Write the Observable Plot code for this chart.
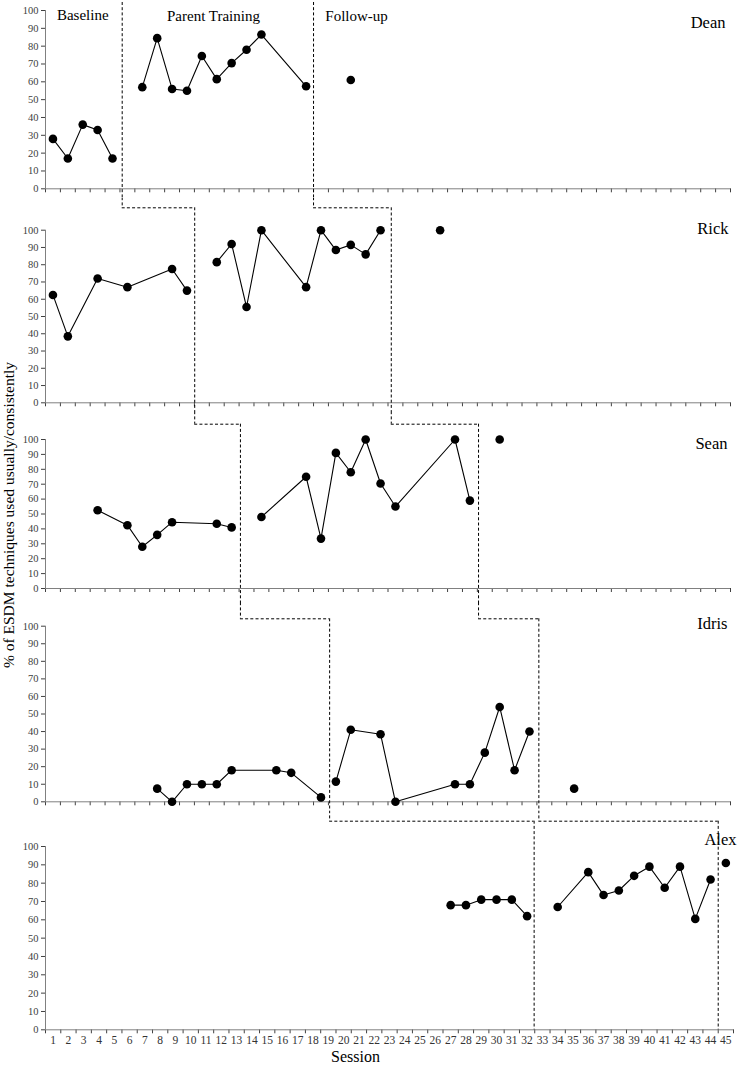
<!DOCTYPE html>
<html>
<head>
<meta charset="utf-8">
<script src="https://cdn.jsdelivr.net/npm/d3@7"></script>
<script src="https://cdn.jsdelivr.net/npm/@observablehq/plot@0.6"></script>
<style>
  body { margin: 0; background: #fff; }
  #chart { position: relative; width: 740px; height: 1069px; font-family: "Liberation Serif", "Times New Roman", serif; }
  #chart svg { display: block; }
  #ylabel { position: absolute; left: 8.5px; top: 515px; transform: translate(-50%, -50%) rotate(-90deg);
            white-space: nowrap; font-size: 15.5px; line-height: 1; color: #000; }
</style>
</head>
<body>
<div id="chart"><div id="ylabel">% of ESDM techniques used usually/consistently</div></div>
<script>
// ---------- DATA ----------
// phase codes: B = Baseline, T = Parent Training, F = Follow-up
const deanSessions = [1, 2, 3, 4, 5, 7, 8, 9, 10, 11, 12, 13, 14, 15, 18, 21];
const deanValues   = [28, 17, 36, 33, 17, 57, 84.5, 56, 55, 74.5, 61.5, 70.5, 78, 86.5, 57.5, 61];
const deanPhases   = ["B","B","B","B","B","T","T","T","T","T","T","T","T","T","T","F"];
const deanPhaseChanges = [5.65, 18.5];

const rickSessions = [1, 2, 4, 6, 9, 10, 12, 13, 14, 15, 18, 19, 20, 21, 22, 23, 27];
const rickValues   = [62.5, 38.5, 72, 67, 77.5, 65, 81.5, 92, 55.5, 100, 67, 100, 88.5, 91.5, 86, 100, 100];
const rickPhases   = ["B","B","B","B","B","B","T","T","T","T","T","T","T","T","T","T","F"];
const rickPhaseChanges = [10.52, 23.72];

const seanSessions = [4, 6, 7, 8, 9, 12, 13, 15, 18, 19, 20, 21, 22, 23, 24, 28, 29, 31];
const seanValues   = [52.5, 42.5, 28, 36, 44.5, 43.5, 41, 48, 75, 33.5, 91, 78, 100, 70.5, 55, 100, 59, 100];
const seanPhases   = ["B","B","B","B","B","B","B","T","T","T","T","T","T","T","T","T","T","F"];
const seanPhaseChanges = [13.59, 29.58];

const idrisSessions = [8, 9, 10, 11, 12, 13, 16, 17, 19, 20, 21, 23, 24, 28, 29, 30, 31, 32, 33, 36];
const idrisValues   = [7.5, 0, 10, 10, 10, 18, 18, 16.5, 2.5, 11.5, 41, 38.5, 0, 10, 10, 28, 54, 18, 40, 7.5];
const idrisPhases   = ["B","B","B","B","B","B","B","B","B","T","T","T","T","T","T","T","T","T","T","F"];
const idrisPhaseChanges = [19.58, 33.63];

const alexSessions = [27, 28, 29, 30, 31, 32, 34, 36, 37, 38, 39, 40, 41, 42, 43, 44, 45];
const alexValues   = [68, 68, 71, 71, 71, 62, 67, 86, 73.5, 76, 84, 89, 77.5, 89, 60.5, 82, 91];
const alexPhases   = ["B","B","B","B","B","B","T","T","T","T","T","T","T","T","T","T","F"];
const alexPhaseChanges = [32.46, 44.5];

const phaseTitles = ["Baseline", "Parent Training", "Follow-up"];
const yTicks = [0, 10, 20, 30, 40, 50, 60, 70, 80, 90, 100];
const sessionTickLabels = d3.range(1, 46);

// ---------- LAYOUT ----------
const FONT = "'Liberation Serif', 'Times New Roman', serif";
const panels = [
  {name: "Dean",  sessions: deanSessions,  values: deanValues,  phases: deanPhases,  changes: deanPhaseChanges,
   height: 198, marginTop: 10,   marginBottom: 9.7,  nCats: 46, xEnd: 730, lineTopPx: 2, nameDx: -5, nameDy: 6},
  {name: "Rick",  sessions: rickSessions,  values: rickValues,  phases: rickPhases,  changes: rickPhaseChanges,
   height: 214, marginTop: 31.7, marginBottom: 9.7,  nCats: 46, xEnd: 730, connectorPx: 9.3,  nameDx: -2, nameDy: -7.7},
  {name: "Sean",  sessions: seanSessions,  values: seanValues,  phases: seanPhases,  changes: seanPhaseChanges,
   height: 191, marginTop: 27,   marginBottom: 15,   nCats: 46, xEnd: 730, connectorPx: 11.7, nameDx: -3, nameDy: -2},
  {name: "Idris", sessions: idrisSessions, values: idrisValues, phases: idrisPhases, changes: idrisPhaseChanges,
   height: 208, marginTop: 22.7, marginBottom: 9.7,  nCats: 46, xEnd: 730, connectorPx: 15.3, nameDx: -3, nameDy: -8.7},
  {name: "Alex",  sessions: alexSessions,  values: alexValues,  phases: alexPhases,  changes: alexPhaseChanges,
   height: 258, marginTop: 35,   marginBottom: 39.7, nCats: 45, xEnd: 733, connectorPx: 9.7,  nameDx: 3, nameDy: -13.5, last: true}
];
panels.forEach(p => {
  p.xDomain = [0.5, p.nCats + 0.5];
  p.xPix = d3.scaleLinear().domain(p.xDomain).range([45, p.xEnd]);
  p.yPix = d3.scaleLinear().domain([0, 100]).range([p.height - p.marginBottom, p.marginTop]);
});

function makePanel(p, prev, idx) {
  const rows = p.sessions.map((s, i) => ({session: s, value: p.values[i], phase: p.phases[i]}));
  const dash = {stroke: "#000", strokeWidth: 1, strokeDasharray: "3,2.2"};
  const below = p.yPix.invert(p.height + 6);
  const boundaries = d3.range(0, p.nCats + 1).map(k => k + 0.5);
  const marks = [
    Plot.ruleY([0], {stroke: "#808080", strokeWidth: 1}),
    Plot.ruleX([0.5], {y1: 0, y2: 100, stroke: "#808080", strokeWidth: 1})
  ];
  if (prev) {
    const conn = p.yPix.invert(p.connectorPx);
    const above = p.yPix.invert(-6);
    const prevX = prev.changes.map(v => p.xPix.invert(prev.xPix(v)));
    marks.push(Plot.ruleX(prevX, {y1: above, y2: conn, ...dash}));
    marks.push(Plot.ruleY(prevX.map((v, i) => ({a: v, b: p.changes[i]})), {y: conn, x1: "a", x2: "b", ...dash}));
    marks.push(Plot.ruleX(p.changes, {y1: conn, y2: p.last ? 0 : below, ...dash}));
  } else {
    marks.push(Plot.ruleX(p.changes, {y1: p.yPix.invert(p.lineTopPx), y2: below, ...dash}));
  }
  marks.push(Plot.line(rows, {x: "session", y: "value", z: "phase", stroke: "#000", strokeWidth: 1.1}));
  marks.push(Plot.dot(rows, {x: "session", y: "value", r: 4.3, fill: "#000", stroke: "none"}));
  marks.push(Plot.text([p.name], {text: d => d, frameAnchor: "top-right", textAnchor: "end",
    dx: p.nameDx, dy: p.nameDy, fontSize: 16.5, fill: "#000", fontFamily: FONT}));
  if (idx === 0) {
    marks.push(Plot.text([phaseTitles[0]], {text: d => d, x: [3], frameAnchor: "top", dy: -1.5,
      fontSize: 15, fill: "#000", fontFamily: FONT}));
    marks.push(Plot.text([phaseTitles[1]], {text: d => d, x: [11.78], frameAnchor: "top", dy: 0,
      fontSize: 15, fill: "#000", fontFamily: FONT}));
    marks.push(Plot.text([phaseTitles[2]], {text: d => d, x: [19.29], frameAnchor: "top", dy: 0.3,
      textAnchor: "start", fontSize: 15, fill: "#000", fontFamily: FONT}));
  }
  if (p.last) {
    marks.push(Plot.text(sessionTickLabels, {text: d => String(d), x: d => d, frameAnchor: "bottom", dy: 14,
      fontSize: 11.5, fill: "#333", fontFamily: FONT}));
    marks.push(Plot.text(["Session"], {text: d => d, frameAnchor: "bottom", dx: -34, dy: 32.6,
      fontSize: 16, fill: "#000", fontFamily: FONT}));
  }
  return Plot.plot({
    width: 740,
    height: p.height,
    marginLeft: 45,
    marginRight: 740 - p.xEnd,
    marginTop: p.marginTop,
    marginBottom: p.marginBottom,
    style: {fontFamily: FONT, fontSize: "10.5px", color: "#404040", background: "transparent", overflow: "hidden"},
    x: {domain: p.xDomain, ticks: boundaries, tickSize: 4, tickFormat: () => "", label: null},
    y: {domain: [0, 100], ticks: yTicks, tickSize: 4, tickPadding: 3, label: null},
    marks
  });
}

const chart = document.getElementById("chart");
const ylabel = document.getElementById("ylabel");
panels.forEach((p, i) => {
  const svg = makePanel(p, i > 0 ? panels[i - 1] : null, i);
  chart.insertBefore(svg, ylabel);
});
</script>
</body>
</html>
